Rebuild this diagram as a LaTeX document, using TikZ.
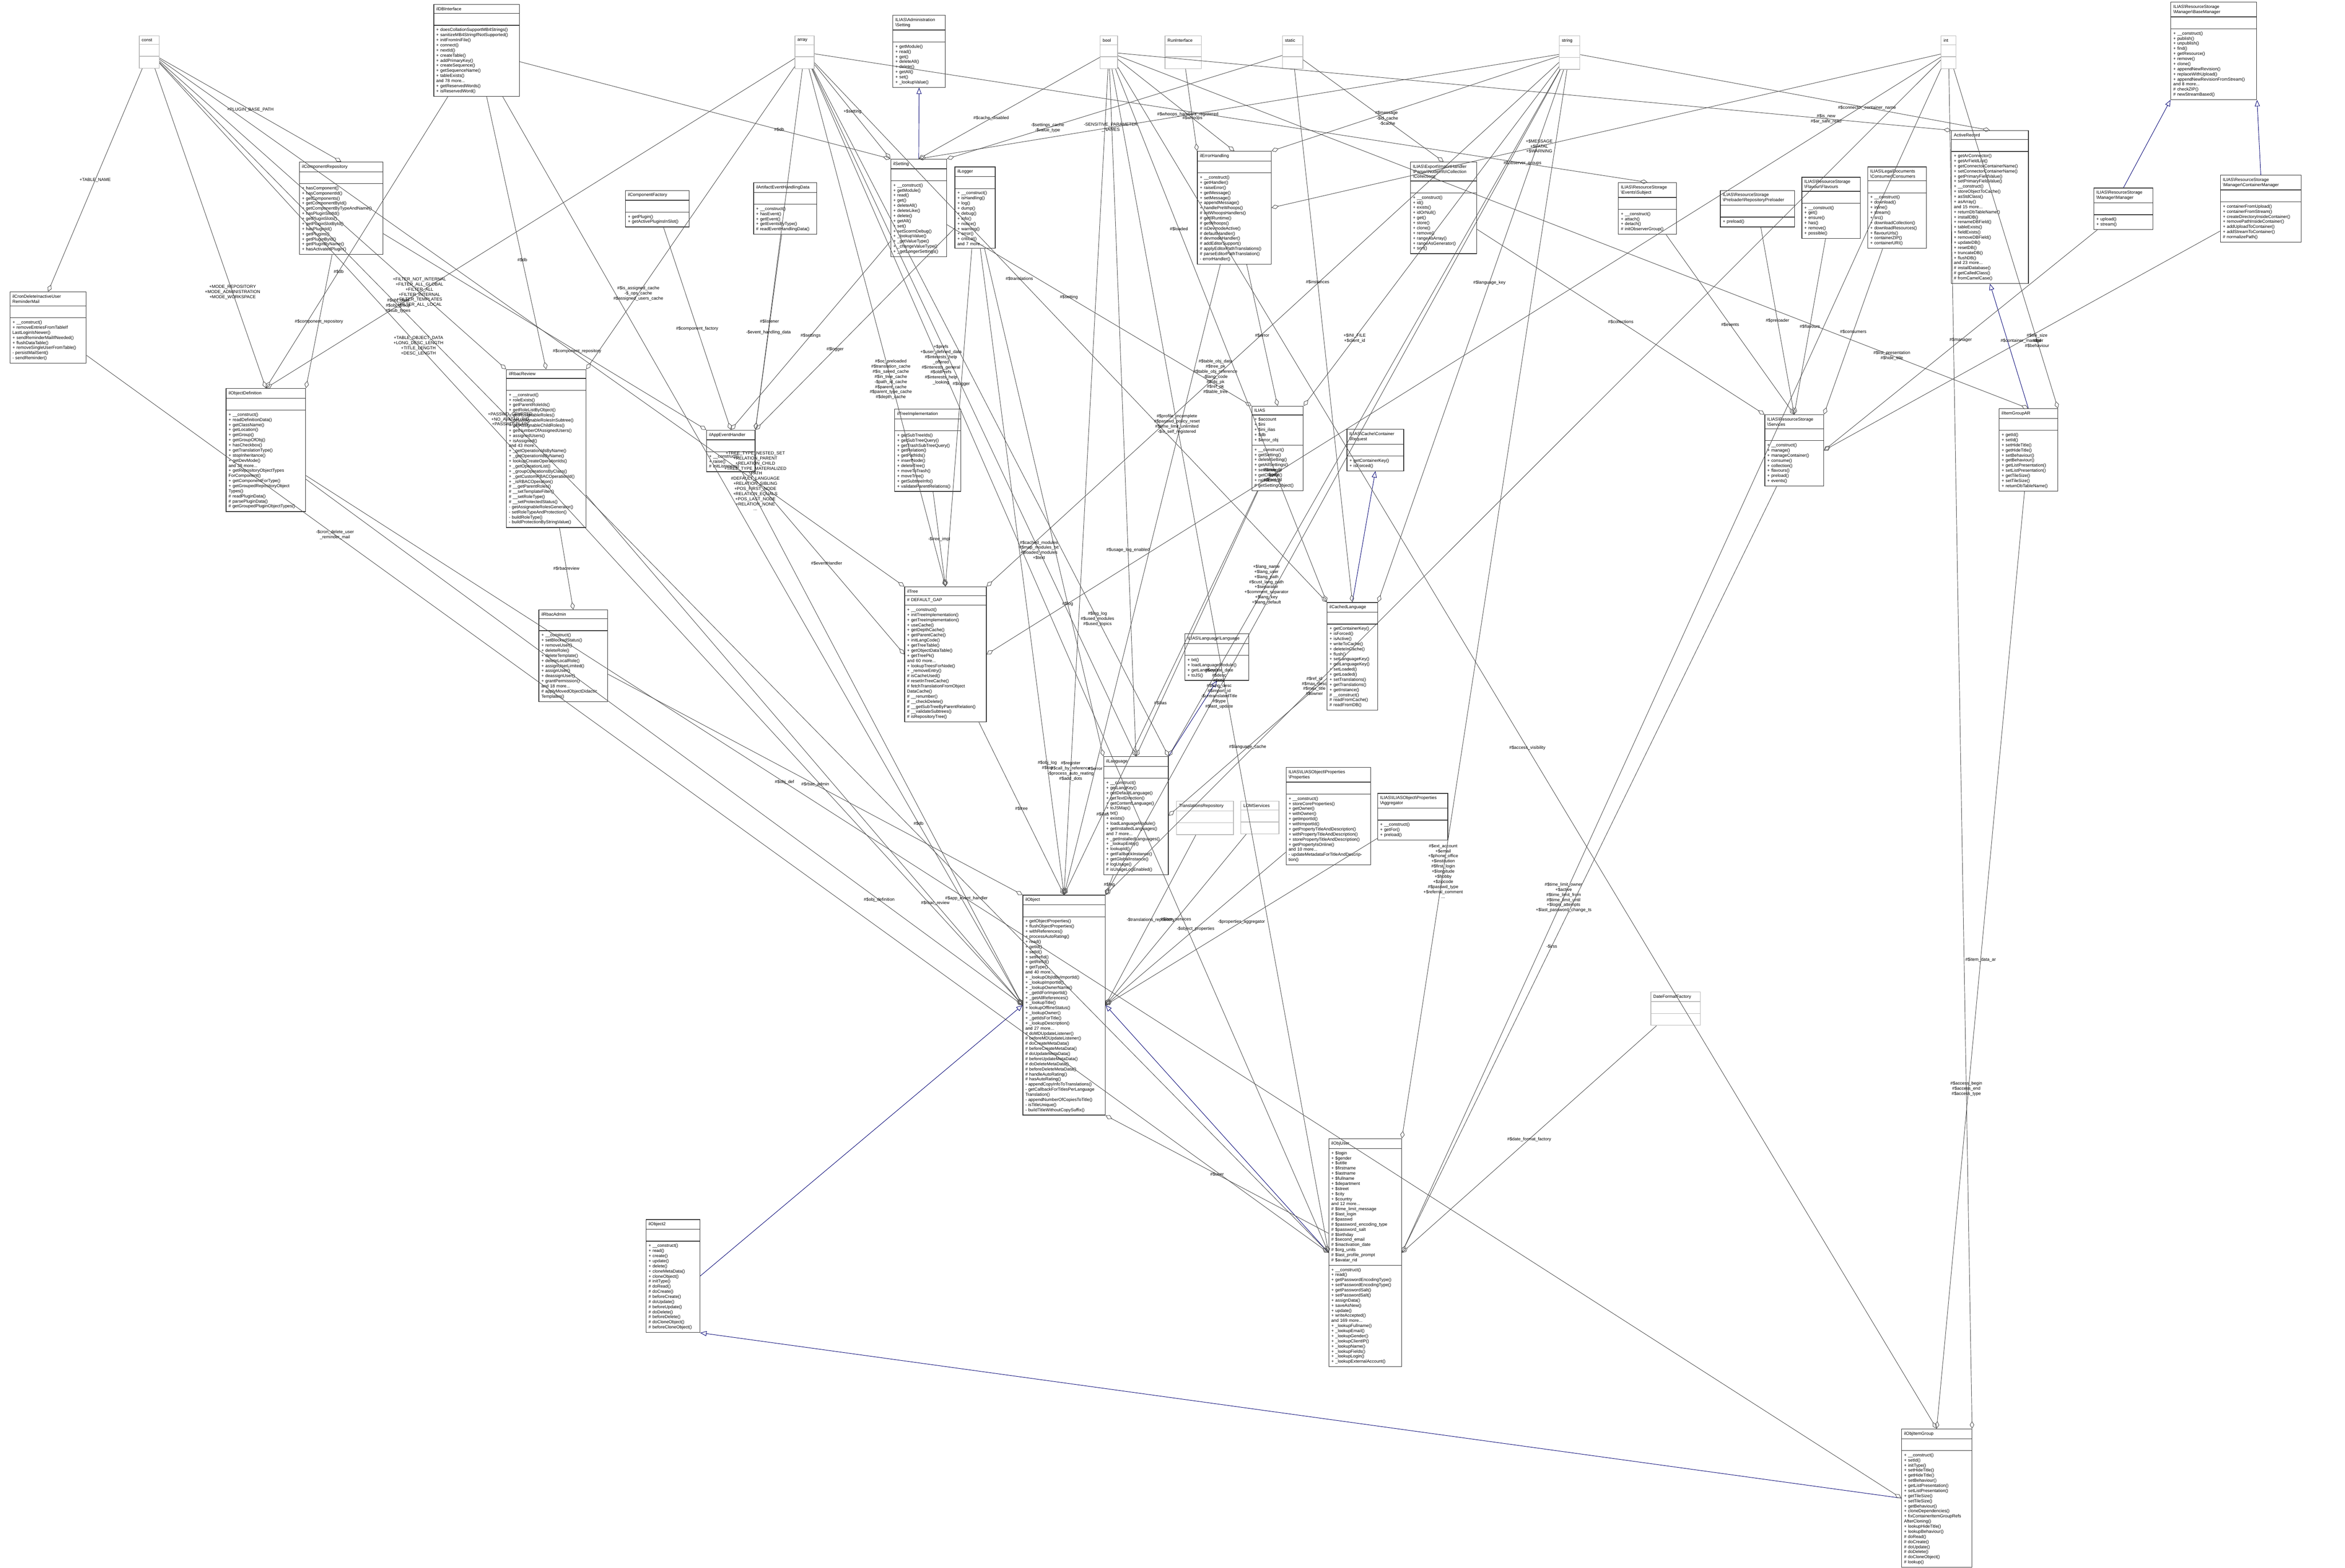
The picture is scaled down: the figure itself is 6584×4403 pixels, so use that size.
\documentclass[tikz,border=0pt]{standalone}
\usepackage{fontspec}
\setmainfont{Liberation Sans}
\usetikzlibrary{shapes.multipart,arrows.meta,positioning}
\newcommand{\bs}{\textbackslash}
\tikzset{
classbox/.style = {draw=black!80, line width=0.5pt, fill=white, rectangle split, rectangle split parts=3,
  rectangle split part align={center,left,left}, anchor=north west, inner sep=2pt,
  font=\fontsize{3.5}{4.07}\selectfont},
focusbox/.style = {classbox, rectangle split part fill={gray!55,gray!55,gray!55}},
typebox/.style = {classbox, draw=gray!55},
agg/.style = {draw=black!70, line width=0.35pt, -{Diamond[open,length=6pt,width=3.5pt]}},
inh/.style = {draw=blue!45!black, line width=0.35pt, -{Triangle[open,length=5pt,width=4pt]}},
lbl/.style = {font=\fontsize{3.5}{4.07}\selectfont, align=center, inner sep=1pt}
}
\newcommand{\gap}{\rule{0pt}{5pt}}
\begin{document}
\begin{tikzpicture}[x=0.01cm, y=-0.01cm]
\useasboundingbox (0,0) rectangle (6584,4403);
% types
\node[typebox, text width=0.42cm] (const) at (390,100) {const\nodepart{second}\gap\nodepart{third}\gap};
\node[typebox, text width=0.40cm] (array) at (2231,100) {array\nodepart{second}\gap\nodepart{third}\gap};
\node[typebox, text width=0.35cm] (bool) at (3088,100) {bool\nodepart{second}\gap\nodepart{third}\gap};
\node[typebox, text width=0.88cm] (runif) at (3270,100) {RunInterface\nodepart{second}\gap\nodepart{third}\gap};
\node[typebox, text width=0.43cm] (static) at (3600,100) {static\nodepart{second}\gap\nodepart{third}\gap};
\node[typebox, text width=0.44cm] (string) at (4377,100) {string\nodepart{second}\gap\nodepart{third}\gap};
\node[typebox, text width=0.28cm] (int) at (5449,100) {int\nodepart{second}\gap\nodepart{third}\gap};
\node[typebox, text width=1.46cm] (translations) at (3302,2249) {TranslationsRepository\nodepart{second}\gap\nodepart{third}\gap};
\node[typebox, text width=0.93cm] (lom) at (3483,2249) {LOMServices\nodepart{second}\gap\nodepart{third}\gap};
\node[typebox, text width=1.25cm] (dateformat) at (4634,2785) {DateFormatFactory\nodepart{second}\gap\nodepart{third}\gap};
% top row classes
\node[classbox, text width=2.26cm] (ildb) at (1217,12) {ilDBInterface\nodepart{second}\gap\nodepart{third}+ doesCollationSupportMB4Strings()\\+ sanitizeMB4StringIfNotSupported()\\+ initFromIniFile()\\+ connect()\\+ nextId()\\+ createTable()\\+ addPrimaryKey()\\+ createSequence()\\+ getSequenceName()\\+ tableExists()\\and 78 more...\\+ getReservedWords()\\+ isReservedWord()};
\node[classbox, text width=1.33cm] (admsetting) at (2506,42) {ILIAS\bs Administration\\\bs Setting\nodepart{second}\gap\nodepart{third}+ getModule()\\+ read()\\+ get()\\+ deleteAll()\\+ delete()\\+ getAll()\\+ set()\\+ \_lookupValue()};
\node[classbox, text width=2.27cm] (basemanager) at (6094,5) {ILIAS\bs ResourceStorage\\\bs Manager\bs BaseManager\nodepart{second}\gap\nodepart{third}+ \_\_construct()\\+ publish()\\+ unpublish()\\+ find()\\+ getResource()\\+ remove()\\+ clone()\\+ appendNewRevision()\\+ replaceWithUpload()\\+ appendNewRevisionFromStream()\\and 8 more...\\\# checkZIP()\\\# newStreamBased()};
\node[classbox, text width=2.20cm] (comprepo) at (840,454) {ilComponentRepository\nodepart{second}\gap\nodepart{third}+ hasComponent()\\+ hasComponentId()\\+ getComponents()\\+ getComponentById()\\+ getComponentByTypeAndName()\\+ hasPluginSlotId()\\+ getPluginSlots()\\+ getPluginSlotById()\\+ hasPluginId()\\+ getPlugins()\\+ getPluginById()\\+ getPluginByName()\\+ hasActivatedPlugin()};
\node[classbox, text width=1.65cm] (compfactory) at (1755,534) {ilComponentFactory\nodepart{second}\gap\nodepart{third}+ getPlugin()\\+ getActivePluginsInSlot()};
\node[classbox, text width=1.63cm] (artifact) at (2115,512) {ilArtifactEventHandlingData\nodepart{second}\gap\nodepart{third}+ \_\_construct()\\+ hasEvent()\\+ getEvent()\\+ getEventsByType()\\\# readEventHandlingData()};
\node[classbox, text width=1.43cm] (ilsetting) at (2500,446) {ilSetting\nodepart{second}\gap\nodepart{third}+ \_\_construct()\\+ getModule()\\+ read()\\+ get()\\+ deleteAll()\\+ deleteLike()\\+ delete()\\+ getAll()\\+ set()\\+ setScormDebug()\\+ \_lookupValue()\\+ \_getValueType()\\+ \_changeValueType()\\+ \_getLongerSettings()};
\node[classbox, text width=0.99cm] (illogger) at (2680,468) {ilLogger\nodepart{second}\gap\nodepart{third}+ \_\_construct()\\+ isHandling()\\+ log()\\+ dump()\\+ debug()\\+ info()\\+ notice()\\+ warning()\\+ error()\\+ critical()\\and 7 more...};
\node[classbox, text width=1.93cm] (ilerror) at (3361,424) {ilErrorHandling\nodepart{second}\gap\nodepart{third}+ \_\_construct()\\+ getHandler()\\+ raiseError()\\+ getMessage()\\+ setMessage()\\+ appendMessage()\\+ handlePreWhoops()\\\# initWhoopsHandlers()\\\# getIlRuntime()\\\# getWhoops()\\\# isDevmodeActive()\\\# defaultHandler()\\\# devmodeHandler()\\\# addEditorSupport()\\\# applyEditorPathTranslations()\\\# parseEditorPathTranslation()\\- errorHandler()};
\node[classbox, text width=1.72cm] (collections) at (3959,454) {ILIAS\bs Export\bs ImportHandler\\\bs Parser\bs NodeInfo\bs Collection\\\bs Collections\nodepart{second}\gap\nodepart{third}+ \_\_construct()\\+ id()\\+ exists()\\+ idOrNull()\\+ get()\\+ store()\\+ clone()\\+ remove()\\+ rangeAsArray()\\+ rangeAsGenerator()\\+ sort()};
\node[classbox, text width=1.49cm] (subject) at (4543,512) {ILIAS\bs ResourceStorage\\\bs Events\bs Subject\nodepart{second}\gap\nodepart{third}+ \_\_construct()\\+ attach()\\+ detach()\\\# initObserverGroup()};
\node[classbox, text width=1.95cm] (preloader) at (4829,534) {ILIAS\bs ResourceStorage\\\bs Preloader\bs RepositoryPreloader\nodepart{second}\gap\nodepart{third}+ preload()};
\node[classbox, text width=1.50cm] (flavours) at (5058,497) {ILIAS\bs ResourceStorage\\\bs Flavour\bs Flavours\nodepart{second}\gap\nodepart{third}+ \_\_construct()\\+ get()\\+ ensure()\\+ has()\\+ remove()\\+ possible()};
\node[classbox, text width=1.51cm] (consumers) at (5243,468) {ILIAS\bs LegalDocuments\\\bs Consumer\bs Consumers\nodepart{second}\gap\nodepart{third}+ \_\_construct()\\+ download()\\+ inline()\\+ stream()\\+ src()\\+ downloadCollection()\\+ downloadResources()\\+ flavourUrls()\\+ containerZIP()\\+ containerURI()};
\node[classbox, text width=2.02cm] (activerecord) at (5478,366) {ActiveRecord\nodepart{second}\gap\nodepart{third}+ getArConnector()\\+ getArFieldList()\\+ getConnectorContainerName()\\+ setConnectorContainerName()\\+ getPrimaryFieldValue()\\+ setPrimaryFieldValue()\\+ \_\_construct()\\+ storeObjectToCache()\\+ asStdClass()\\+ asArray()\\and 15 more...\\+ returnDbTableName()\\+ installDB()\\+ renameDBField()\\+ tableExists()\\+ fieldExists()\\+ removeDBField()\\+ updateDB()\\+ resetDB()\\+ truncateDB()\\+ flushDB()\\and 23 more...\\\# installDatabase()\\\# getCalledClass()\\\# fromCamelCase()};
\node[classbox, text width=1.52cm] (rsmanager) at (5878,527) {ILIAS\bs ResourceStorage\\\bs Manager\bs Manager\nodepart{second}\gap\nodepart{third}+ upload()\\+ stream()};
\node[classbox, text width=2.13cm] (containermanager) at (6233,491) {ILIAS\bs ResourceStorage\\\bs Manager\bs ContainerManager\nodepart{second}\gap\nodepart{third}+ containerFromUpload()\\+ containerFromStream()\\+ createDirectoryInsideContainer()\\+ removePathInsideContainer()\\+ addUploadToContainer()\\+ addStreamToContainer()\\\# normalizePath()};
% middle classes
\node[classbox, text width=2.00cm] (ilcron) at (27,819) {ilCronDeleteInactiveUser\\ReminderMail\nodepart{second}\gap\nodepart{third}+ \_\_construct()\\+ removeEntriesFromTableIf\\LastLoginIsNewer()\\+ sendReminderMailIfNeeded()\\+ flushDataTable()\\+ removeSingleUserFromTable()\\- persistMailSent()\\- sendReminder()};
\node[classbox, text width=2.09cm] (ilobjdef) at (634,1090) {ilObjectDefinition\nodepart{second}\gap\nodepart{third}+ \_\_construct()\\+ readDefinitionData()\\+ getClassName()\\+ getLocation()\\+ getGroup()\\+ getGroupOfObj()\\+ hasCheckbox()\\+ getTranslationType()\\+ stopInheritance()\\+ getDevMode()\\and 38 more...\\+ getRepositoryObjectTypes\\ForComponent()\\+ getComponentForType()\\+ getGroupedRepositoryObject\\Types()\\\# readPluginData()\\\# parsePluginData()\\\# getGroupedPluginObjectTypes()};
\node[classbox, text width=2.09cm] (ilrbacreview) at (1421,1037) {ilRbacReview\nodepart{second}\gap\nodepart{third}+ \_\_construct()\\+ roleExists()\\+ getParentRoleIds()\\+ getRoleListByObject()\\+ getAssignableRoles()\\+ getAssignableRolesInSubtree()\\+ getAssignableChildRoles()\\+ getNumberOfAssignedUsers()\\+ assignedUsers()\\+ isAssigned()\\and 43 more...\\+ \_getOperationIdsByName()\\+ \_getOperationIdByName()\\+ lookupCreateOperationIds()\\+ \_getOperationList()\\+ \_groupOperationsByClass()\\+ \_getCustomRBACOperationId()\\+ \_isRBACOperation()\\\# \_\_getParentRoles()\\\# \_\_setTemplateFilter()\\\# \_\_setRoleType()\\\# \_\_setProtectedStatus()\\- getAssignableRolesGenerator()\\- setRoleTypeAndProtection()\\- buildRoleType()\\- buildProtectionByStringValue()};
\node[classbox, text width=1.22cm] (ilappevent) at (1983,1207) {ilAppEventHandler\nodepart{second}\gap\nodepart{third}+ \_\_construct()\\+ raise()\\\# initListeners()};
\node[classbox, text width=1.79cm] (ilrbacadmin) at (1512,1712) {ilRbacAdmin\nodepart{second}\gap\nodepart{third}+ \_\_construct()\\+ setBlockedStatus()\\+ removeUser()\\+ deleteRole()\\+ deleteTemplate()\\+ deleteLocalRole()\\+ assignUserLimited()\\+ assignUser()\\+ deassignUser()\\+ grantPermission()\\and 18 more...\\\# applyMovedObjectDidactic\\Templates()};
\node[classbox, text width=1.71cm] (iltreeimpl) at (2511,1148) {ilTreeImplementation\nodepart{second}\gap\nodepart{third}+ getSubTreeIds()\\+ getSubTreeQuery()\\+ getTrashSubTreeQuery()\\+ getRelation()\\+ getPathIds()\\+ insertNode()\\+ deleteTree()\\+ moveToTrash()\\+ moveTree()\\+ getSubtreeInfo()\\+ validateParentRelations()};
\node[classbox, text width=2.15cm] (iltree) at (2539,1647) {ilTree\nodepart{second}\# DEFAULT\_GAP\nodepart{third}+ \_\_construct()\\+ initTreeImplementation()\\+ getTreeImplementation()\\+ useCache()\\+ getDepthCache()\\+ getParentCache()\\+ initLangCode()\\+ getTreeTable()\\+ getObjectDataTable()\\+ getTreePk()\\and 60 more...\\+ lookupTreesForNode()\\+ \_removeEntry()\\\# isCacheUsed()\\\# resetInTreeCache()\\\# fetchTranslationFromObject\\DataCache()\\\# \_\_renumber()\\\# \_\_checkDelete()\\\# \_\_getSubTreeByParentRelation()\\\# \_\_validateSubtrees()\\\# isRepositoryTree()};
\node[classbox, text width=1.30cm] (ilias) at (3514,1140) {ILIAS\nodepart{second}+ \$account\\+ \$ini\\+ \$ini\_ilias\\+ \$db\\+ \$error\_obj\nodepart{third}+ \_\_construct()\\+ getSetting()\\+ deleteSetting()\\+ getAllSettings()\\+ setSetting()\\+ getClientId()\\+ raiseError()\\\# getSettingObject()};
\node[classbox, text width=1.45cm] (cacherequest) at (3781,1205) {ILIAS\bs Cache\bs Container\\\bs Request\nodepart{second}\gap\nodepart{third}+ getContainerKey()\\+ isForced()};
\node[classbox, text width=1.28cm] (ilcachedlang) at (3725,1691) {ilCachedLanguage\nodepart{second}\gap\nodepart{third}+ getContainerKey()\\+ isForced()\\+ isActive()\\+ writeToCache()\\+ deleteInCache()\\+ flush()\\+ setLanguageKey()\\+ getLanguageKey()\\+ setLoaded()\\+ getLoaded()\\+ setTranslations()\\+ getTranslations()\\+ getInstance()\\\# \_\_construct()\\\# readFromCache()\\\# readFromDB()};
\node[classbox, text width=1.65cm] (langlanguage) at (3326,1779) {ILIAS\bs Language\bs Language\nodepart{second}\gap\nodepart{third}+ txt()\\+ loadLanguageModule()\\+ getLangKey()\\+ toJS()};
\node[classbox, text width=1.51cm] (services) at (4954,1164) {ILIAS\bs ResourceStorage\\\bs Services\nodepart{second}\gap\nodepart{third}+ \_\_construct()\\+ manage()\\+ manageContainer()\\+ consume()\\+ collection()\\+ flavours()\\+ preload()\\+ events()};
\node[classbox, text width=1.50cm] (ilitemgroupar) at (5612,1147) {ilItemGroupAR\nodepart{second}\gap\nodepart{third}+ getId()\\+ setId()\\+ setHideTitle()\\+ getHideTitle()\\+ setBehaviour()\\+ getBehaviour()\\+ getListPresentation()\\+ setListPresentation()\\+ getTileSize()\\+ setTileSize()\\+ returnDbTableName()};
\node[classbox, text width=1.67cm] (illanguage) at (3098,2124) {ilLanguage\nodepart{second}\gap\nodepart{third}+ \_\_construct()\\+ getLangKey()\\+ getDefaultLanguage()\\+ getTextDirection()\\+ getContentLanguage()\\+ toJSMap()\\+ txt()\\+ exists()\\+ loadLanguageModule()\\+ getInstalledLanguages()\\and 7 more...\\+ \_getInstalledLanguages()\\+ \_lookupEntry()\\+ lookupId()\\+ getFallbackInstance()\\+ getGlobalInstance()\\\# logUsage()\\\# isUsageLogEnabled()};
\node[classbox, text width=2.23cm] (properties) at (3610,2154) {ILIAS\bs ILIASObject\bs Properties\\\bs Properties\nodepart{second}\gap\nodepart{third}+ \_\_construct()\\+ storeCoreProperties()\\+ getOwner()\\+ withOwner()\\+ getImportId()\\+ withImportId()\\+ getPropertyTitleAndDescription()\\+ withPropertyTitleAndDescription()\\+ storePropertyTitleAndDescription()\\+ getPropertyIsOnline()\\and 10 more...\\- updateMetadataForTitleAndDescription()};
\node[classbox, text width=1.83cm] (aggregator) at (3867,2227) {ILIAS\bs ILIASObject\bs Properties\\\bs Aggregator\nodepart{second}\gap\nodepart{third}+ \_\_construct()\\+ getFor()\\+ preload()};
% lower classes
\node[classbox, text width=2.17cm] (ilobject) at (2871,2513) {ilObject\nodepart{second}\gap\nodepart{third}+ getObjectProperties()\\+ flushObjectProperties()\\+ withReferences()\\+ processAutoRating()\\+ read()\\+ getId()\\+ setId()\\+ setRefId()\\+ getRefId()\\+ getType()\\and 40 more...\\+ \_lookupObjIdByImportId()\\+ \_lookupImportId()\\+ \_lookupOwnerName()\\+ \_getIdForImportId()\\+ \_getAllReferences()\\+ \_lookupTitle()\\+ lookupOfflineStatus()\\+ \_lookupOwner()\\+ \_getIdsForTitle()\\+ \_lookupDescription()\\and 27 more...\\\# doMDUpdateListener()\\\# beforeMDUpdateListener()\\\# doCreateMetaData()\\\# beforeCreateMetaData()\\\# doUpdateMetaData()\\\# beforeUpdateMetaData()\\\# doDeleteMetaData()\\\# beforeDeleteMetaData()\\\# handleAutoRating()\\\# hasAutoRating()\\- appendCopyInfoToTranslations()\\- getCallbackForTitlesPerLanguage\\Translation()\\- appendNumberOfCopiesToTitle()\\- isTitleUnique()\\- buildTitleWithoutCopySuffix()};
\node[classbox, text width=1.37cm] (ilobject2) at (1813,3424) {ilObject2\nodepart{second}\gap\nodepart{third}+ \_\_construct()\\+ read()\\+ create()\\+ update()\\+ delete()\\+ cloneMetaData()\\+ cloneObject()\\\# initType()\\\# doRead()\\\# doCreate()\\\# beforeCreate()\\\# doUpdate()\\\# beforeUpdate()\\\# doDelete()\\\# beforeDelete()\\\# doCloneObject()\\\# beforeCloneObject()};
\node[classbox, text width=1.90cm] (ilobjuser) at (3730,3197) {ilObjUser\nodepart{second}+ \$login\\+ \$gender\\+ \$utitle\\+ \$firstname\\+ \$lastname\\+ \$fullname\\+ \$department\\+ \$street\\+ \$city\\+ \$country\\and 12 more...\\\# \$time\_limit\_message\\\# \$last\_login\\\# \$passwd\\\# \$password\_encoding\_type\\\# \$password\_salt\\\# \$birthday\\\# \$second\_email\\\# \$inactivation\_date\\\# \$org\_units\\\# \$last\_profile\_prompt\\\# \$avatar\_rid\nodepart{third}+ \_\_construct()\\+ read()\\+ getPasswordEncodingType()\\+ setPasswordEncodingType()\\+ getPasswordSalt()\\+ setPasswordSalt()\\+ assignData()\\+ saveAsNew()\\+ update()\\+ writeAccepted()\\and 169 more...\\+ \_lookupFullname()\\+ \_lookupEmail()\\+ \_lookupGender()\\+ \_lookupClientIP()\\+ \_lookupName()\\+ \_lookupFields()\\+ \_lookupLogin()\\+ \_lookupExternalAccount()};
\node[focusbox, text width=1.83cm] (ilobjitemgroup) at (5338,4012) {ilObjItemGroup\nodepart{second}\gap\nodepart{third}+ \_\_construct()\\+ setId()\\+ initType()\\+ setHideTitle()\\+ getHideTitle()\\+ setBehaviour()\\+ getListPresentation()\\+ setListPresentation()\\+ getTileSize()\\+ setTileSize()\\+ getBehaviour()\\+ cloneDependencies()\\+ fixContainerItemGroupRefs\\AfterCloning()\\+ lookupHideTitle()\\+ lookupBehaviour()\\\# doRead()\\\# doCreate()\\\# doUpdate()\\\# doDelete()\\\# doCloneObject()\\\# lookup()};
% inheritance
\draw[inh] (ilsetting.north) -- (admsetting.south);
\draw[inh] (ilcachedlang.north) -- (cacherequest.south);
\draw[inh] (illanguage.north east) -- (langlanguage.south);
\draw[inh] (ilitemgroupar.north) -- (activerecord.south);
\draw[inh] (rsmanager.north) -- (basemanager.south west);
\draw[inh] (containermanager.north) -- (basemanager.south east);
\draw[inh] (ilobject2.east) -- (ilobject.west);
\draw[inh] (ilobjuser.west) -- (ilobject.east);
\draw[inh] (ilobjitemgroup.west) -- (ilobject2.south east);
% members
\draw[agg] (const) -- node[lbl]{+TABLE\_NAME} (ilcron.north);
\draw[agg] (const) -- node[lbl]{+PLUGIN\_BASE\_PATH} (comprepo.north);
\draw[agg] (const) -- node[lbl, pos=0.7]{+MODE\_REPOSITORY\\+MODE\_ADMINISTRATION\\+MODE\_WORKSPACE} (ilobjdef.north);
\draw[agg] (array) -- node[lbl, pos=0.75]{\#\$obj\_data\\\#\$obj\_group\\\#\$sub\_types} (ilobjdef.north);
\draw[agg] (ildb) -- node[lbl, pos=0.6]{\#\$db} (ilobjdef.north);
\draw[agg] (comprepo) -- node[lbl]{\#\$component\_repository} (ilobjdef.north east);
\draw[agg] (const) -- node[lbl, pos=0.75]{+FILTER\_NOT\_INTERNAL\\+FILTER\_ALL\_GLOBAL\\+FILTER\_ALL\\+FILTER\_INTERNAL\\+FILTER\_TEMPLATES\\+FILTER\_ALL\_LOCAL} (ilrbacreview.north west);
\draw[agg] (ildb) -- node[lbl, pos=0.6]{\#\$db} (ilrbacreview.north);
\draw[agg] (array) -- node[lbl, pos=0.75]{\#\$is\_assigned\_cache\\-\$\_ops\_cache\\\#\$assigned\_users\_cache} (ilrbacreview.north east);
\draw[agg] (ilrbacreview) -- node[lbl]{\#\$rbacreview} (ilrbacadmin.north);
\draw[agg] (comprepo) -- node[lbl, pos=0.6]{\#\$component\_repository} (ilappevent.north west);
\draw[agg] (ilsetting) -- node[lbl]{\#\$settings} (ilappevent.north);
\draw[agg] (compfactory) -- node[lbl]{\#\$component\_factory} (ilappevent.north);
\draw[agg] (illogger) -- node[lbl, pos=0.6]{\#\$logger} (ilappevent.north east);
\draw[agg] (array) -- node[lbl, pos=0.7]{\#\$listener} (ilappevent.north east);
\draw[agg] (artifact) -- node[lbl]{-\$event\_handling\_data} (ilappevent.north east);
\draw[agg] (ildb) -- node[lbl, pos=0.7]{\#\$db} (ilsetting.north west);
\draw[agg] (array) -- node[lbl]{+\$setting} (ilsetting.north west);
\draw[agg] (static) -- node[lbl, pos=0.7]{-\$settings\_cache\\-\$value\_type} (ilsetting.north east);
\draw[agg] (bool) -- node[lbl, pos=0.6]{\#\$cache\_disabled} (ilsetting.north);
\draw[agg] (string) -- node[lbl, pos=0.7]{-SENSITIVE\_PARAMETER\\\_NAMES} (ilsetting.north);
\draw[agg] (runif) -- node[lbl, pos=0.6]{\#\$whoops} (ilerror.north west);
\draw[agg] (bool) -- node[lbl, pos=0.6]{\#\$whoops\_handlers\_registered} (ilerror.north);
\draw[agg] (string) -- node[lbl, pos=0.6]{\#\$message} (ilerror.north east);
\draw[agg] (int) -- node[lbl, pos=0.6]{+\$MESSAGE\\+\$FATAL\\+\$WARNING} (ilerror.east);
\draw[agg] (static) -- node[lbl, pos=0.6]{-\$id\_cache\\-\$cache} (collections.north);
\draw[agg] (array) -- node[lbl, pos=0.85]{\#\$observer\_groups} (subject.north);
\draw[agg] (string) -- node[lbl, pos=0.7]{\#\$connector\_container\_name} (activerecord.north);
\draw[agg] (bool) -- node[lbl, pos=0.85]{\#\$is\_new\\\#\$ar\_safe\_read} (activerecord.north west);
\draw[agg] (collections) -- node[lbl]{\#\$collections} (services.north west);
\draw[agg] (subject) -- node[lbl]{\#\$events} (services.north);
\draw[agg] (preloader) -- node[lbl]{\#\$preloader} (services.north);
\draw[agg] (flavours) -- node[lbl]{\#\$flavours} (services.north);
\draw[agg] (consumers) -- node[lbl]{\#\$consumers} (services.north east);
\draw[agg] (rsmanager) -- node[lbl]{\#\$manager} (services.east);
\draw[agg] (containermanager) -- node[lbl]{\#\$container\_manager} (services.east);
\draw[agg] (bool) -- node[lbl, pos=0.85]{\#\$list\_presentation\\\#\$hide\_title} (ilitemgroupar.north);
\draw[agg] (int) -- node[lbl, pos=0.8]{\#\$tile\_size\\\#\$id\\\#\$behaviour} (ilitemgroupar.north east);
\draw[agg] (illogger) -- node[lbl, pos=0.4]{\#\$logger} (iltree.north);
\draw[agg] (iltreeimpl) -- node[lbl]{-\$tree\_impl} (iltree.north);
\draw[agg] (ilappevent) -- node[lbl]{\#\$eventHandler} (iltree.west);
\draw[agg] (const) -- node[lbl, pos=0.8]{+TREE\_TYPE\_NESTED\_SET\\+RELATION\_PARENT\\+RELATION\_CHILD\\+TREE\_TYPE\_MATERIALIZED\\\_PATH\\\#DEFAULT\_LANGUAGE\\+RELATION\_SIBLING\\+POS\_FIRST\_NODE\\+RELATION\_EQUALS\\+POS\_LAST\_NODE\\+RELATION\_NONE\\...} (iltree.north west);
\draw[agg] (array) -- node[lbl, pos=0.6]{\#\$oc\_preloaded\\\#\$translation\_cache\\\#\$is\_saved\_cache\\\#\$in\_tree\_cache\\-\$path\_id\_cache\\\#\$parent\_cache\\\#\$parent\_type\_cache\\\#\$depth\_cache} (iltree.north);
\draw[agg] (string) -- node[lbl, pos=0.6]{\#\$table\_obj\_data\\\#\$tree\_pk\\\#\$table\_obj\_reference\\-\$lang\_code\\\#\$obj\_pk\\\#\$ref\_pk\\\#\$table\_tree} (iltree.north east);
\draw[agg] (int) -- node[lbl, pos=0.7]{\#\$tree\_id\\-\$gap\\\#\$root\_id} (iltree.east);
\draw[agg] (ilsetting) -- node[lbl, pos=0.4]{\#\$setting} (ilias.north west);
\draw[agg] (ilerror) -- node[lbl]{\#\$error} (ilias.north);
\draw[agg] (string) -- node[lbl, pos=0.8]{+\$INI\_FILE\\+\$client\_id} (ilias.north east);
\draw[agg] (bool) -- node[lbl, pos=0.3]{\#\$loaded} (ilcachedlang.north west);
\draw[agg] (array) -- node[lbl, pos=0.4]{\#\$translations} (ilcachedlang.north west);
\draw[agg] (static) -- node[lbl, pos=0.4]{\#\$instances} (ilcachedlang.north);
\draw[agg] (string) -- node[lbl, pos=0.4]{\#\$language\_key} (ilcachedlang.north east);
\draw[agg] (ilcachedlang) -- node[lbl]{\#\$language\_cache} (illanguage.east);
\draw[agg] (ilias) -- node[lbl, pos=0.8]{\#\$ilias} (illanguage.north);
\draw[agg] (illogger) -- node[lbl, pos=0.7]{\#\$log} (illanguage.north west);
\draw[agg] (array) -- node[lbl, pos=0.7]{\#\$cached\_modules\\\#\$map\_modules\_txt\\+\$loaded\_modules\\+\$text} (illanguage.north);
\draw[agg] (bool) -- node[lbl, pos=0.7]{\#\$usage\_log\_enabled} (illanguage.north);
\draw[agg] (string) -- node[lbl, pos=0.75]{+\$lang\_name\\+\$lang\_user\\+\$lang\_path\\\#\$cust\_lang\_path\\+\$separator\\+\$comment\_separator\\+\$lang\_key\\+\$lang\_default} (illanguage.north east);
\draw[agg] (array) -- node[lbl, pos=0.8]{\#\$lng\_log\\\#\$used\_modules\\\#\$used\_topics} (illanguage.north east);
\draw[agg] (illanguage) -- node[lbl]{\#\$lng} (ilobject.north east);
\draw[agg] (translations) -- node[lbl]{-\$translations\_repository} (ilobject.east);
\draw[agg] (lom) -- node[lbl]{\#\$lom\_services} (ilobject.east);
\draw[agg] (properties) -- node[lbl]{-\$object\_properties} (ilobject.east);
\draw[agg] (aggregator) -- node[lbl]{-\$properties\_aggregator} (ilobject.east);
\draw[agg] (iltree) -- node[lbl]{\#\$tree} (ilobject.north);
\draw[agg] (ilrbacadmin) -- node[lbl]{\#\$rbac\_admin} (ilobject.north west);
\draw[agg] (ilrbacreview) -- node[lbl, pos=0.8]{\#\$rbac\_review} (ilobject.west);
\draw[agg] (ilobjdef) -- node[lbl, pos=0.8]{\#\$obj\_definition} (ilobject.west);
\draw[agg] (ilappevent) -- node[lbl, pos=0.8]{\#\$app\_event\_handler} (ilobject.west);
\draw[agg] (ildb) -- node[lbl, pos=0.8]{\#\$db} (ilobject.west);
\draw[agg] (ilerror) -- node[lbl, pos=0.8]{\#\$error} (ilobject.north);
\draw[agg] (ilias) -- node[lbl, pos=0.8]{\#\$ilias} (ilobject.north);
\draw[agg] (illogger) -- node[lbl, pos=0.8]{\#\$obj\_log\\\#\$log} (ilobject.north);
\draw[agg] (const) -- node[lbl, pos=0.3]{+TABLE\_OBJECT\_DATA\\+LONG\_DESC\_LENGTH\\+TITLE\_LENGTH\\+DESC\_LENGTH} (ilobject.west);
\draw[agg] (bool) -- node[lbl, pos=0.85]{\#\$register\\\#\$call\_by\_reference\\-\$process\_auto\_reating\\\#\$add\_dots} (ilobject.north);
\draw[agg] (int) -- node[lbl, pos=0.75]{\#\$ref\_id\\\#\$max\_desc\\\#\$max\_title\\\#\$owner} (ilobject.north east);
\draw[agg] (string) -- node[lbl, pos=0.75]{\#\$create\_date\\\#\$desc\\\#\$title\\\#\$long\_desc\\\#\$import\_id\\-\$untranslatedTitle\\\#\$type\\\#\$last\_update} (ilobject.north east);
\draw[agg] (ilobjuser) -- node[lbl]{\#\$user} (ilobject.south east);
\draw[agg] (const) -- node[lbl, pos=0.3]{+PASSWD\_CRYPTED\\+NO\_AVATAR\_RID\\+PASSWD\_PLAIN} (ilobjuser.west);
\draw[agg] (array) -- node[lbl, pos=0.25]{+\$prefs\\+\$user\_defined\_data\\\#\$interests\_help\\\_offered\\\#\$interests\_general\\\#\$oldPrefs\\\#\$interests\_help\\\_looking} (ilobjuser.west);
\draw[agg] (bool) -- node[lbl, pos=0.3]{\#\$profile\_incomplete\\\#\$passwd\_policy\_reset\\\#\$time\_limit\_unlimited\\-\$is\_self\_registered} (ilobjuser.west);
\draw[agg] (ilcron) -- node[lbl, pos=0.2]{-\$cron\_delete\_user\\\_reminder\_mail} (ilobjuser.west);
\draw[agg] (string) -- node[lbl, pos=0.75]{\#\$ext\_account\\+\$email\\+\$phone\_office\\+\$institution\\\#\$first\_login\\+\$longitude\\+\$hobby\\+\$zipcode\\\#\$passwd\_type\\+\$referral\_comment\\...} (ilobjuser.north east);
\draw[agg] (int) -- node[lbl, pos=0.7]{\#\$time\_limit\_owner\\+\$active\\\#\$time\_limit\_from\\\#\$time\_limit\_until\\+\$login\_attempts\\+\$last\_password\_change\_ts} (ilobjuser.east);
\draw[agg] (dateformat) -- node[lbl]{\#\$date\_format\_factory} (ilobjuser.east);
\draw[agg] (services) -- node[lbl, pos=0.6]{-\$irss} (ilobjuser.east);
\draw[agg] (ilitemgroupar) -- node[lbl, pos=0.5]{\#\$item\_data\_ar} (ilobjitemgroup.north);
\draw[agg] (bool) -- node[lbl, pos=0.5]{\#\$access\_visibility} (ilobjitemgroup.north);
\draw[agg] (int) -- node[lbl, pos=0.75]{\#\$access\_begin\\\#\$access\_end\\\#\$access\_type} (ilobjitemgroup.north east);
\draw[agg] (ilobjdef) -- node[lbl, pos=0.3]{\#\$obj\_def} (ilobjitemgroup.west);
\end{tikzpicture}
\end{document}
